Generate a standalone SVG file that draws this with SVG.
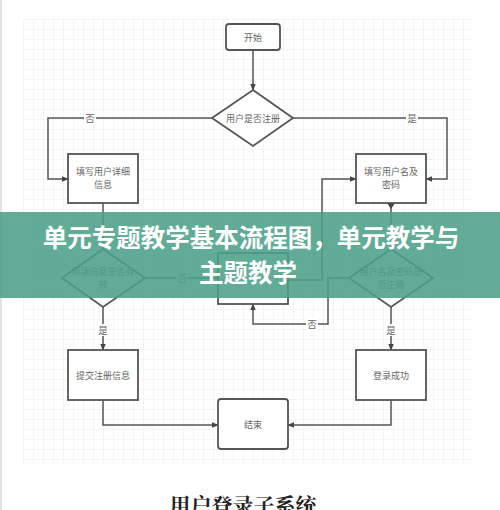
<svg xmlns="http://www.w3.org/2000/svg" width="500" height="510" viewBox="0 0 500 510">
<defs>
<pattern id="grid" x="23" y="19" width="10" height="10" patternUnits="userSpaceOnUse">
<path d="M10 0H0V10" fill="none" stroke="#e6e6e6" stroke-width="0.8"/>
</pattern>
<marker id="arr" viewBox="0 0 10 10" refX="9" refY="5" markerWidth="7" markerHeight="7" orient="auto" markerUnits="userSpaceOnUse">
<path d="M0 1L10 5L0 9Z" fill="#444"/>
</marker>
<style>
.box{fill:#fff;stroke:#555;stroke-width:1.8}
.ln{fill:none;stroke:#555;stroke-width:1.5}
.t{font-family:"Noto Sans CJK SC","Noto Sans",sans-serif;font-size:9px;fill:#666;text-anchor:middle}
.lb{font-family:"Noto Sans CJK SC","Noto Sans",sans-serif;font-size:9.5px;fill:#666;text-anchor:middle}
.lbg{fill:#fff}
</style>
</defs>
<rect width="500" height="510" fill="#fff"/>
<rect x="0" y="0" width="2" height="510" fill="#e2e2e2"/>
<rect x="23" y="19" width="449" height="444" fill="url(#grid)"/>

<g id="connectors">
<path class="ln" d="M253 50V90" marker-end="url(#arr)"/>
<path class="ln" d="M212 118H48V179H68" marker-end="url(#arr)"/>
<path class="ln" d="M293 118H447V179H426" marker-end="url(#arr)"/>
<path class="ln" d="M103 203V249"/>
<path class="ln" d="M145 278H218"/>
<path class="ln" d="M288 280H322V179H356" marker-end="url(#arr)"/>
<path class="ln" d="M391 249V203"/>
<path d="M387 203H395L391 209Z" fill="#444"/>
<path class="ln" d="M350 278H328V324H253V304" marker-end="url(#arr)"/>
<path class="ln" d="M103 307V350" marker-end="url(#arr)"/>
<path class="ln" d="M391 307V350" marker-end="url(#arr)"/>
<path class="ln" d="M103 400V425H218" marker-end="url(#arr)"/>
<path class="ln" d="M391 400V425H288" marker-end="url(#arr)"/>
<rect class="lbg" x="84" y="112" width="12" height="12"/>
<text class="lb" x="90" y="121.5">否</text>
<rect class="lbg" x="406" y="112" width="12" height="12"/>
<text class="lb" x="412" y="121.5">是</text>
<rect class="lbg" x="176" y="272" width="12" height="12"/>
<text class="lb" x="182" y="281.5">否</text>
<rect class="lbg" x="306" y="318" width="12" height="12"/>
<text class="lb" x="312" y="327.5">否</text>
<rect class="lbg" x="97" y="324" width="12" height="12"/>
<text class="lb" x="103" y="333.5">是</text>
<rect class="lbg" x="385" y="324" width="12" height="12"/>
<text class="lb" x="391" y="333.5">是</text>
</g>

<g id="start">
<rect class="box" x="226" y="24" width="54" height="26" rx="3"/>
<text class="t" x="253" y="40.5">开始</text>
</g>
<g id="isRegistered">
<path class="box" d="M253 90L293 118L253 146L212 118Z"/>
<text class="t" x="253" y="121.5">用户是否注册</text>
</g>
<g id="fillDetail">
<rect class="box" x="68" y="154" width="70" height="49"/>
<text class="t" x="103" y="175">填写用户详细</text>
<text class="t" x="103" y="188">信息</text>
</g>
<g id="fillLogin">
<rect class="box" x="356" y="154" width="70" height="49"/>
<text class="t" x="391" y="175">填写用户名及</text>
<text class="t" x="391" y="188">密码</text>
</g>
<g id="validInfo">
<path class="box" d="M103 249L145 278L103 307L62 278Z"/>
<text class="t" x="103" y="275">所填信息是否有</text>
<text class="t" x="103" y="288">效</text>
</g>
<g id="middle">
<rect class="box" x="218" y="253" width="70" height="51"/>
</g>
<g id="checkLogin">
<path class="box" d="M391 249L433 278L391 307L349 278Z"/>
<text class="t" x="391" y="275">用户名及密码是</text>
<text class="t" x="391" y="288">否正确</text>
</g>
<g id="submit">
<rect class="box" x="68" y="350" width="70" height="50"/>
<text class="t" x="103" y="378.5">提交注册信息</text>
</g>
<g id="loginOk">
<rect class="box" x="356" y="350" width="70" height="50"/>
<text class="t" x="391" y="378.5">登录成功</text>
</g>
<g id="end">
<rect class="box" x="218" y="399" width="70" height="50" rx="3"/>
<text class="t" x="253" y="427.5">结束</text>
</g>

<text x="243" y="513" font-family="'Noto Serif CJK SC','Noto Sans CJK SC',serif" font-weight="bold" font-size="21" fill="#222" text-anchor="middle">用户登录子系统</text>

<g id="banner">
<rect x="0" y="212" width="500" height="86" fill="#4c9f89" opacity="0.88"/>
<text x="251" y="247" font-family="'Noto Sans CJK SC',sans-serif" font-weight="bold" font-size="24.5" fill="#fff" text-anchor="middle">单元专题教学基本流程图，单元教学与</text>
<text x="248" y="282" font-family="'Noto Sans CJK SC',sans-serif" font-weight="bold" font-size="24.5" fill="#fff" text-anchor="middle">主题教学</text>
</g>
</svg>
